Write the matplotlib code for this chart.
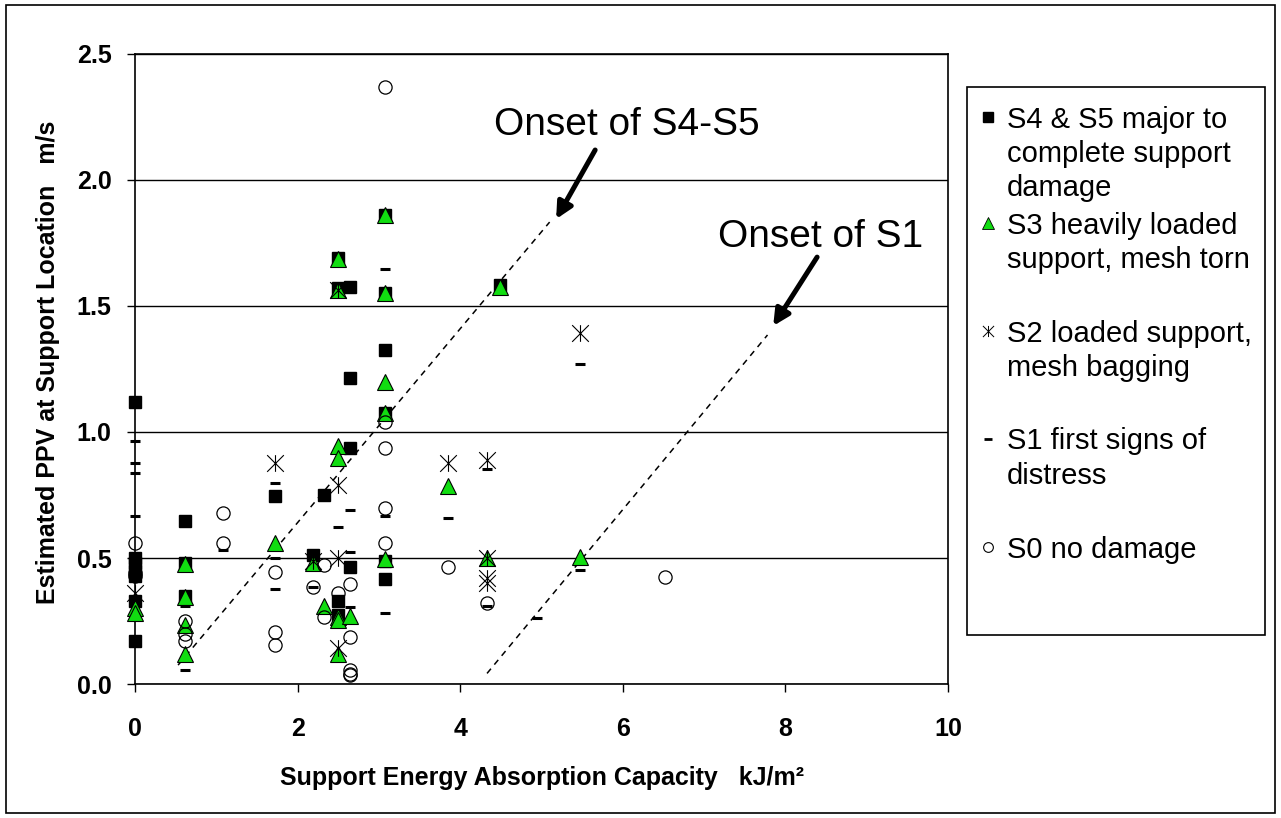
import matplotlib
matplotlib.use("Agg")
import matplotlib.pyplot as plt
from matplotlib.path import Path
from matplotlib.lines import Line2D
from matplotlib.patches import Rectangle

plt.rcParams['font.family'] = ['Liberation Sans', 'DejaVu Sans']

# ---- data ----
s45_x = [0, 0, 0, 0, 0, 0, 0, 0.62, 0.62, 0.62, 1.72, 2.19, 2.32, 2.50, 2.50, 2.50, 2.50,
         2.64, 2.64, 2.64, 2.64, 3.07, 3.07, 3.07, 3.07, 3.07, 3.07, 4.49]
s45_y = [1.12, 0.50, 0.48, 0.45, 0.43, 0.33, 0.17, 0.645, 0.48, 0.35, 0.745, 0.51, 0.75, 1.69, 1.57, 0.33, 0.275,
         1.575, 1.215, 0.935, 0.466, 1.86, 1.55, 1.325, 1.075, 0.49, 0.415, 1.585]

s3_x = [0, 0, 0.62, 0.62, 0.62, 0.62, 1.72, 2.19, 2.32, 2.50, 2.50, 2.50, 2.50, 2.50, 2.50, 2.50,
        2.64, 3.07, 3.07, 3.07, 3.07, 3.07, 3.85, 4.33, 4.49, 5.47]
s3_y = [0.30, 0.28, 0.475, 0.345, 0.235, 0.12, 0.56, 0.48, 0.31, 1.685, 1.565, 0.945, 0.895, 0.265, 0.255, 0.12,
        0.27, 1.86, 1.55, 1.20, 1.075, 0.495, 0.785, 0.50, 1.575, 0.505]

s2_x = [0, 1.72, 2.19, 2.50, 2.50, 2.50, 2.50, 3.85, 4.33, 4.33, 4.33, 4.33, 5.47]
s2_y = [0.36, 0.876, 0.49, 1.565, 0.79, 0.50, 0.143, 0.878, 0.89, 0.50, 0.42, 0.40, 1.394]

s1_x = [0, 0, 0, 0, 0.62, 0.62, 1.08, 1.72, 1.72, 1.72, 2.19, 2.50, 2.64, 2.64, 2.64,
        3.07, 3.07, 3.07, 3.85, 4.33, 4.33, 4.94, 5.47, 5.47]
s1_y = [0.964, 0.876, 0.839, 0.667, 0.31, 0.056, 0.53, 0.796, 0.50, 0.376, 0.386, 0.624, 0.69, 0.525, 0.307,
        1.646, 0.667, 0.283, 0.657, 0.852, 0.31, 0.26, 1.27, 0.452]

s0_x = [0, 0, 0, 0.62, 0.62, 0.62, 1.08, 1.08, 1.72, 1.72, 1.72, 2.19, 2.32, 2.32, 2.50,
        2.64, 2.64, 2.64, 2.64, 2.64, 3.07, 3.07, 3.07, 3.07, 3.07, 3.85, 4.33, 6.52]
s0_y = [0.558, 0.44, 0.43, 0.25, 0.20, 0.17, 0.677, 0.56, 0.446, 0.208, 0.155, 0.386, 0.472, 0.267, 0.36,
        0.397, 0.185, 0.055, 0.04, 0.035, 2.37, 1.04, 0.935, 0.697, 0.558, 0.466, 0.323, 0.426]

# onset lines
s45_line_x = [0.53, 5.10]
s45_line_y = [0.075, 1.833]
s1_line_x = [4.33, 7.78]
s1_line_y = [0.042, 1.385]

legend_labels = ["S4 & S5 major to\ncomplete support\ndamage",
                 "S3 heavily loaded\nsupport, mesh torn",
                 "S2 loaded support,\nmesh bagging",
                 "S1 first signs of\ndistress",
                 "S0 no damage"]

W, H = 1281, 818
fig = plt.figure(figsize=(W / 100, H / 100), dpi=100)
ax = fig.add_axes([135 / W, 1 - 684 / H, (948 - 135) / W, (684 - 54) / H])

star = Path([(0, -1), (0, 1), (-1, -1), (1, 1), (-1, 1), (1, -1)],
            [Path.MOVETO, Path.LINETO, Path.MOVETO, Path.LINETO, Path.MOVETO, Path.LINETO])
green = '#11dd11'

ax.plot(s45_x, s45_y, ls='none', marker='s', ms=9, mfc='black', mec='black', zorder=3, clip_on=False)
ax.plot(s3_x, s3_y, ls='none', marker='^', ms=11.5, mfc=green, mec='black', mew=0.8, zorder=4, clip_on=False)
ax.plot(s2_x, s2_y, ls='none', marker=star, ms=12, mfc='none', mec='black', mew=0.8, zorder=5, clip_on=False)
ax.plot(s1_x, s1_y, ls='none', marker='_', ms=6.5, mec='black', mew=2.2, zorder=5, clip_on=False)
ax.plot(s0_x, s0_y, ls='none', marker='o', ms=9.5, mfc='none', mec='black', mew=0.9, zorder=6, clip_on=False)

ax.plot(s45_line_x, s45_line_y, color='black', ls=(0, (4, 3.5)), lw=1.1, zorder=2)
ax.plot(s1_line_x, s1_line_y, color='black', ls=(0, (4, 3.5)), lw=1.1, zorder=2)

arrow = dict(arrowstyle='-|>', color='black', lw=3.6, mutation_scale=24, shrinkA=0, shrinkB=0)
ax.annotate('', xy=(5.18, 1.845), xytext=(5.66, 2.119), arrowprops=arrow)
ax.annotate('', xy=(7.85, 1.421), xytext=(8.39, 1.694), arrowprops=arrow)
ax.text(4.42, 2.218, 'Onset of S4-S5', fontsize=28, va='center', ha='left')
ax.text(7.17, 1.774, 'Onset of S1', fontsize=28, va='center', ha='left')

ax.set_xlim(0, 10)
ax.set_ylim(0, 2.5)
ax.set_xticks([0, 2, 4, 6, 8, 10])
ax.set_yticks([0, 0.5, 1.0, 1.5, 2.0, 2.5])
ax.set_yticklabels(['0.0', '0.5', '1.0', '1.5', '2.0', '2.5'])
ax.tick_params(direction='out', length=6, width=1, labelsize=18, color='black')
ax.tick_params(axis='x', pad=18)
ax.tick_params(axis='y', pad=11)
for lab in ax.get_xticklabels() + ax.get_yticklabels():
    lab.set_fontweight('bold')
ax.yaxis.grid(True, color='black', lw=1)
ax.set_axisbelow(True)
for sp in ax.spines.values():
    sp.set_linewidth(1.2)
    sp.set_color('black')

ax.set_xlabel('Support Energy Absorption Capacity   kJ/m²', fontsize=18, fontweight='bold', va='center')
ax.xaxis.set_label_coords(0.5, -0.149)
ax.set_ylabel('Estimated PPV at Support Location   m/s', fontsize=18, fontweight='bold', va='center')
ax.yaxis.set_label_coords(-0.107, 0.51)


def fpos(x, y):
    return x / W, 1 - y / H


# legend box drawn by hand so the uneven Excel spacing can be kept
fig.add_artist(Rectangle(fpos(967, 635), (1265 - 967) / W, (635 - 87) / H, transform=fig.transFigure,
                         fill=False, ec='black', lw=1.2))
leg_marks = [dict(marker='s', ms=7, mfc='black', mec='black'),
             dict(marker='^', ms=9, mfc=green, mec='black', mew=0.6),
             dict(marker=star, ms=8, mfc='none', mec='black', mew=0.7),
             dict(marker='_', ms=6, mec='black', mew=2),
             dict(marker='o', ms=7, mfc='none', mec='black', mew=0.8)]
leg_first_line = [117, 223, 331, 439, 547]
line_gap = 34
for lab, mk, y0 in zip(legend_labels, leg_marks, leg_first_line):
    fig.add_artist(Line2D([988 / W], [1 - y0 / H], transform=fig.transFigure, ls='none', **mk))
    for i, line in enumerate(lab.split('\n')):
        fx, fy = fpos(1007, y0 + i * line_gap + 10.5)
        fig.text(fx, fy, line, fontsize=21, ha='left', va='baseline')

# outer chart border
fig.add_artist(Rectangle(fpos(6, 813), (1275 - 6) / W, (813 - 5) / H, transform=fig.transFigure,
                         fill=False, ec='black', lw=1.2))

fig.savefig('out.png', dpi=100)
